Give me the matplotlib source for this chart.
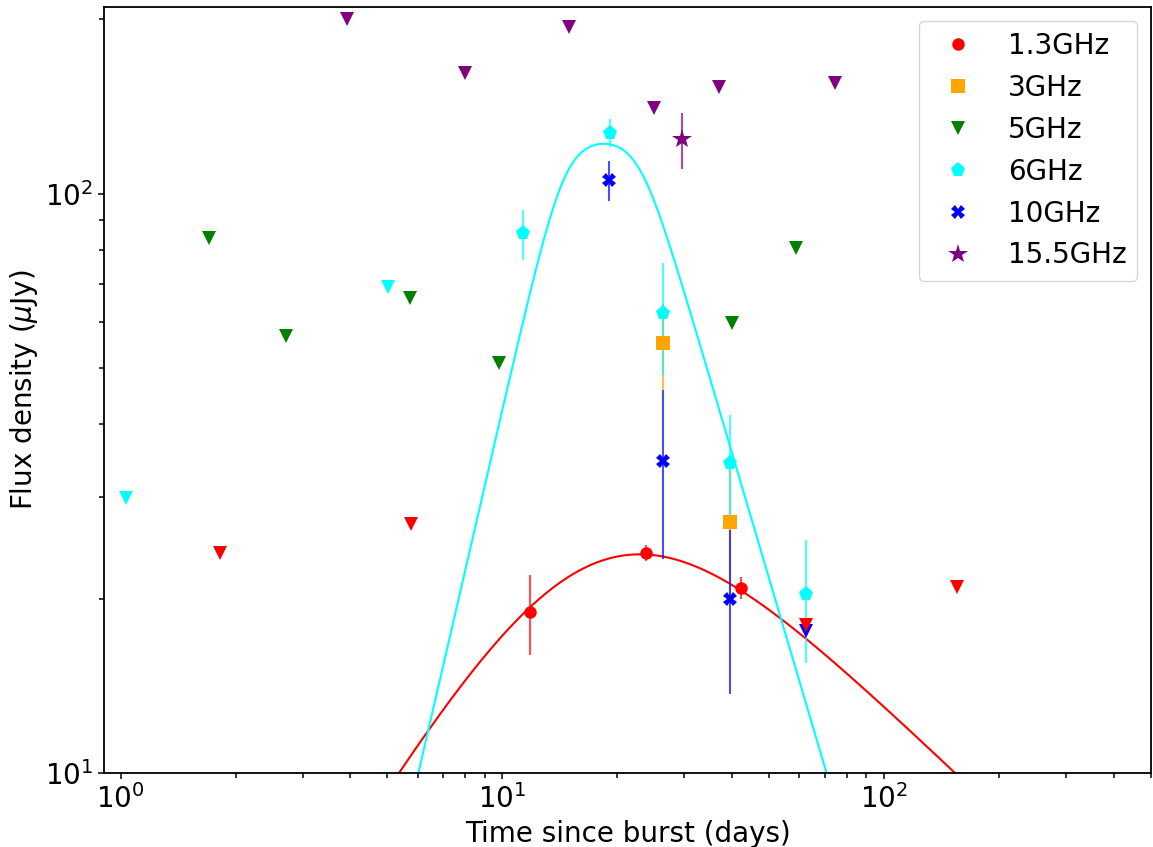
import numpy as np
import matplotlib
matplotlib.use('Agg')
import matplotlib.pyplot as plt
from matplotlib.lines import Line2D

# detections (t in days, flux and 1-sigma error in uJy) and 3-sigma upper limits per band
t13_det = [11.8, 23.8, 42.1]
f13_det = [19.0, 24.0, 20.9]
e13_det = [3.0, 0.8, 0.9]
t13_lim = [1.82, 5.76, 62.4, 155.0]
f13_lim = [24.0, 26.9, 18.0, 21.0]

t3_det = [26.4, 39.6]
f3_det = [55.3, 27.1]
e3_det = [9.4, 7.0]

t5_lim = [1.70, 2.71, 5.73, 9.81, 40.0, 58.7]
f5_lim = [83.8, 56.8, 66.1, 51.0, 59.8, 80.5]

t6_det = [11.34, 19.15, 26.4, 39.5, 62.4]
f6_det = [85.4, 127.4, 62.3, 34.3, 20.4]
e6_det = [8.4, 7.0, 13.6, 7.3, 4.9]
t6_lim = [1.03, 5.02]
f6_lim = [29.9, 69.0]

t10_det = [19.06, 26.4, 39.6]
f10_det = [105.6, 34.6, 20.0]
e10_det = [8.5, 11.2, 6.3]
t10_lim = [62.4]
f10_lim = [17.6]

t155_det = [29.6]
f155_det = [124.1]
e155_det = [13.7]
t155_lim = [3.91, 7.98, 14.95, 25.0, 37.0, 74.4]
f155_lim = [200.2, 161.3, 194.2, 140.4, 152.6, 155.4]

labels = ['1.3GHz', '3GHz', '5GHz', '6GHz', '10GHz', '15.5GHz']
colors = ['red', 'orange', 'green', 'cyan', 'blue', 'purple']
markers = ['o', 's', 'v', 'p', 'X', '*']
msizes = [9, 10, 10.5, 11, 10, 15]

# model light curves
# 1.3 GHz: smoothly broken power law
red_Fb, red_tb, red_a1, red_a2, red_s = 38.63, 18.34, 1.065, -0.633, 1.372
# 6 GHz: steep rise, rounded peak, steep decay
cy_F0, cy_t1, cy_t2, cy_a1, cy_a0, cy_a2, cy_s = 124.5, 14.59, 22.84, 2.85, 0.0, -2.23, 13.0


def sbpl(t, Fb, tb, a1, a2, s):
    x = t / tb
    return Fb * (x ** (-a1 * s) + x ** (-a2 * s)) ** (-1.0 / s)


def dbpl(t, F0, t1, t2, a1, a0, a2, s):
    x1 = t / t1
    x2 = t / t2
    return F0 * x1 ** a1 * (1 + x1 ** s) ** (-(a1 - a0) / s) * (1 + x2 ** s) ** (-(a0 - a2) / s)


fig = plt.figure(figsize=(11.53, 8.47), dpi=100)
ax = fig.add_axes([0.0906, 0.0870, 0.9080, 0.9047])

tt = np.logspace(np.log10(0.9), np.log10(502), 800)
ax.plot(tt, sbpl(tt, red_Fb, red_tb, red_a1, red_a2, red_s), color='red', lw=1.5)
ax.plot(tt, dbpl(tt, cy_F0, cy_t1, cy_t2, cy_a1, cy_a0, cy_a2, cy_s), color='cyan', lw=1.5)

dets = [(t13_det, f13_det, e13_det), (t3_det, f3_det, e3_det), ([], [], []),
        (t6_det, f6_det, e6_det), (t10_det, f10_det, e10_det), (t155_det, f155_det, e155_det)]
lims = [(t13_lim, f13_lim), ([], []), (t5_lim, f5_lim), (t6_lim, f6_lim),
        (t10_lim, f10_lim), (t155_lim, f155_lim)]

for (td, fd, ed), col, mk, ms in zip(dets, colors, markers, msizes):
    if td:
        eb = ax.errorbar(td, fd, yerr=ed, fmt=mk, color=col, ms=ms, mew=0,
                         elinewidth=1.5, capsize=0)
        eb[2][0].set_alpha(0.7)

# upper limits on top, lowest frequency last
for (tl, fl), col in list(zip(lims, colors))[::-1]:
    if tl:
        ax.plot(tl, fl, 'v', color=col, ms=10.5, mew=0, ls='none')

ax.set_xscale('log')
ax.set_yscale('log')
ax.set_xlim(0.907, 502)
ax.set_ylim(10, 210)
ax.set_xlabel('Time since burst (days)', fontsize=20)
ax.set_ylabel(r'Flux density ($\mu$Jy)', fontsize=20)
ax.tick_params(which='both', labelsize=20, width=1.1)
ax.tick_params(which='major', length=4.5)
ax.tick_params(which='minor', length=3.5)
for spine in ax.spines.values():
    spine.set_linewidth(1.3)

handles = [Line2D([], [], ls='none', marker=mk, color=col, ms=ms, mew=0)
           for col, mk, ms in zip(colors, markers, msizes)]
ax.legend(handles, labels, loc='upper right', fontsize=20)

fig.savefig('out.png', dpi=100)
